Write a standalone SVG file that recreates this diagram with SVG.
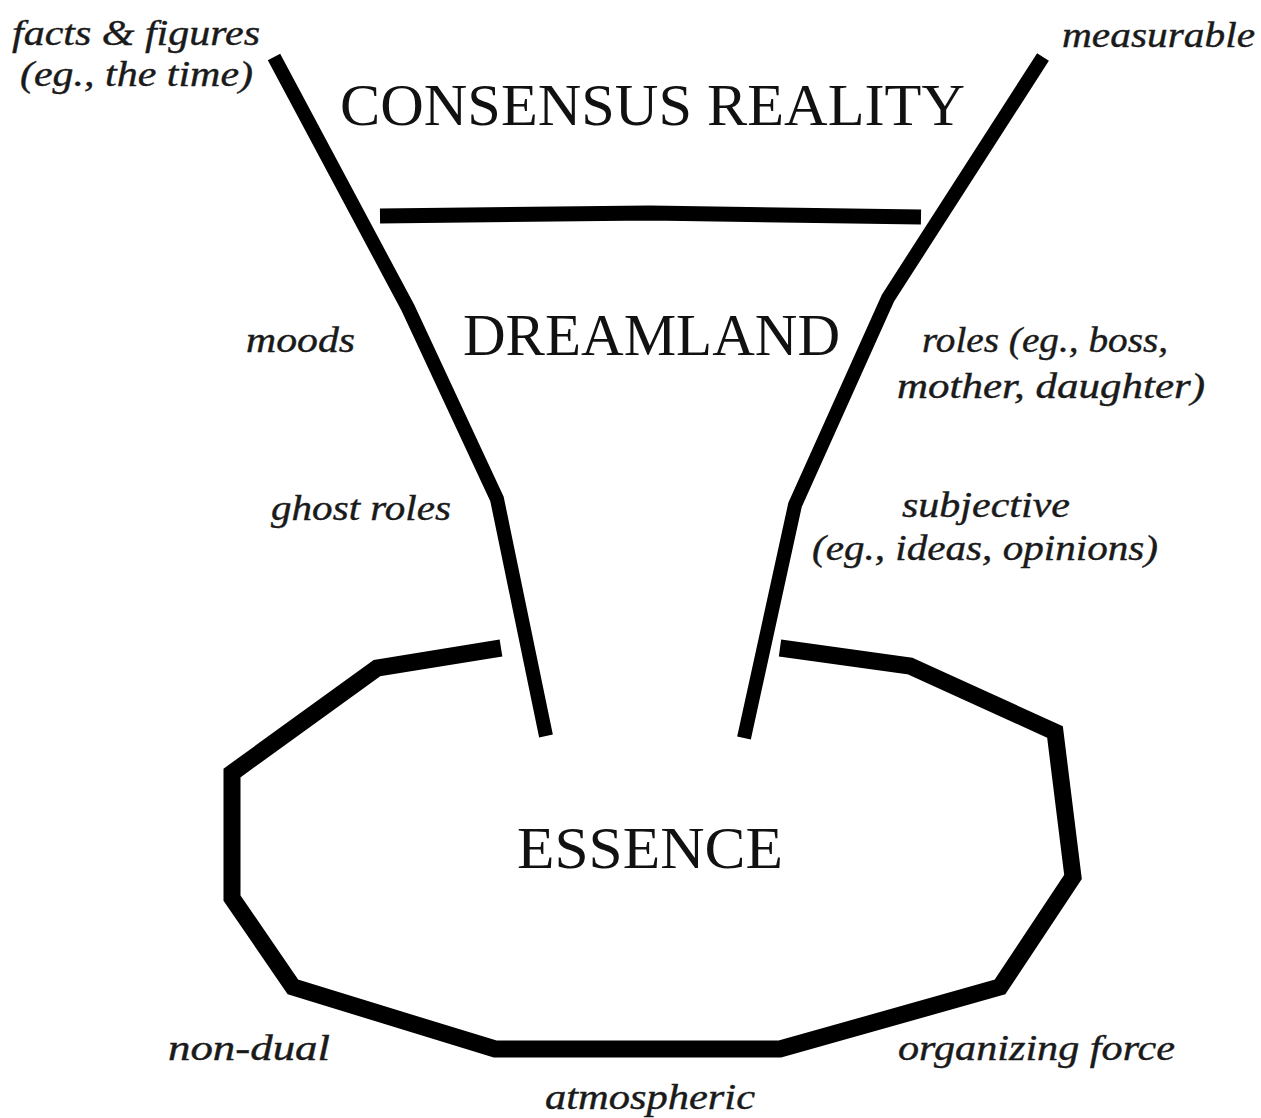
<svg xmlns="http://www.w3.org/2000/svg" width="1261" height="1118" viewBox="0 0 1261 1118">
<style>
.ln{fill:none;stroke:#000;stroke-linejoin:miter;stroke-linecap:butt}
.title{font-family:'Liberation Serif',serif;font-size:60px;fill:#111}
.lbl{font-family:'Liberation Serif',serif;font-style:italic;font-size:35px;fill:#1a1a1a;stroke:#1a1a1a;stroke-width:0.4}
</style>
<rect width="1261" height="1118" fill="#fff"/>
<g id="shapes">
  <path id="funnel-left" class="ln" stroke-width="14" d="M274,57 L408,308 L497,499 L546,736"/>
  <path id="funnel-right" class="ln" stroke-width="14" d="M1043,57 L888,298 L795,505 L744,738"/>
  <path id="divider" class="ln" stroke-width="15" d="M380,216 L650,213 L921,217"/>
  <path id="essence-loop" class="ln" stroke-width="17" d="M501,648 L377,668 L232,773 L232,898 L293,987 L495,1049 L780,1049 L1000,987 L1073,877 L1055,732 L910,666 L780,648"/>
</g>
<g id="node-consensus"><text class="title" x="340" y="125" textLength="625" lengthAdjust="spacingAndGlyphs">CONSENSUS REALITY</text></g>
<g id="node-dreamland"><text class="title" x="463" y="355" textLength="377" lengthAdjust="spacingAndGlyphs">DREAMLAND</text></g>
<g id="node-essence"><text class="title" x="517" y="868" textLength="266" lengthAdjust="spacingAndGlyphs">ESSENCE</text></g>
<g id="labels">
  <text class="lbl" x="12" y="45" textLength="248" lengthAdjust="spacingAndGlyphs">facts &amp; figures</text>
  <text class="lbl" x="20" y="86" textLength="233" lengthAdjust="spacingAndGlyphs">(eg., the time)</text>
  <text class="lbl" x="1062" y="47" textLength="193" lengthAdjust="spacingAndGlyphs">measurable</text>
  <text class="lbl" x="246" y="352" textLength="109" lengthAdjust="spacingAndGlyphs">moods</text>
  <text class="lbl" x="271" y="520" textLength="180" lengthAdjust="spacingAndGlyphs">ghost roles</text>
  <text class="lbl" x="922" y="352" textLength="246" lengthAdjust="spacingAndGlyphs">roles (eg., boss,</text>
  <text class="lbl" x="897" y="398" textLength="308" lengthAdjust="spacingAndGlyphs">mother, daughter)</text>
  <text class="lbl" x="902" y="517" textLength="168" lengthAdjust="spacingAndGlyphs">subjective</text>
  <text class="lbl" x="812" y="560" textLength="346" lengthAdjust="spacingAndGlyphs">(eg., ideas, opinions)</text>
  <text class="lbl" x="168" y="1060" textLength="162" lengthAdjust="spacingAndGlyphs">non-dual</text>
  <text class="lbl" x="545" y="1109" textLength="210" lengthAdjust="spacingAndGlyphs">atmospheric</text>
  <text class="lbl" x="898" y="1060" textLength="277" lengthAdjust="spacingAndGlyphs">organizing force</text>
</g>
</svg>
